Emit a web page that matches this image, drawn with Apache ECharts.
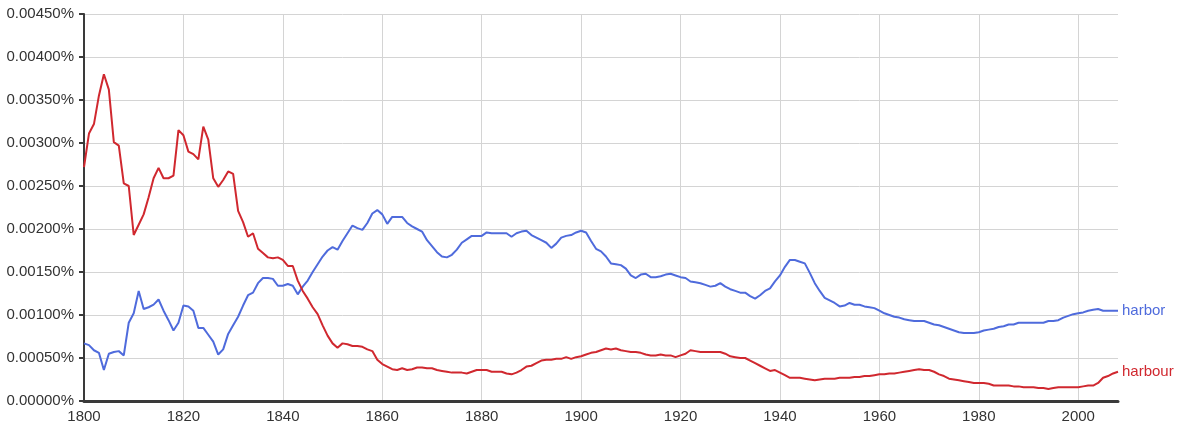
<!DOCTYPE html>
<html>
<head>
<meta charset="utf-8">
<script src="https://cdn.jsdelivr.net/npm/echarts@6/dist/echarts.min.js"></script>
<style>
html,body{margin:0;padding:0;background:#fff;}
#chart{width:1182px;height:432px;}
</style>
</head>
<body>
<div id="chart"></div>
<script>
const startYear = 1800;
const endYear = 2008;
const years = [];
for (let y = startYear; y <= endYear; y++) years.push(String(y));

const yTicks = [0, 0.0005, 0.001, 0.0015, 0.002, 0.0025, 0.003, 0.0035, 0.004, 0.0045];

// harbor (blue), values in percent, 1800..2008
const harbor = [
0.00067,0.00065,0.00059,0.00056,0.00036,0.00055,0.00057,0.00058,0.00053,0.00091,
0.00102,0.00128,0.00107,0.00109,0.00112,0.00118,0.00105,0.00094,0.00082,0.00091,
0.00111,0.00110,0.00105,0.00085,0.00085,0.00077,0.00069,0.00054,0.00060,0.00078,
0.00088,0.00098,0.00111,0.00123,0.00126,0.00137,0.00143,0.00143,0.00142,0.00134,
0.00134,0.00136,0.00134,0.00124,0.00133,0.00140,0.00150,0.00159,0.00168,0.00175,
0.00179,0.00176,0.00186,0.00195,0.00204,0.00201,0.00199,0.00207,0.00218,0.00222,
0.00217,0.00206,0.00214,0.00214,0.00214,0.00207,0.00203,0.00200,0.00197,0.00187,
0.00180,0.00173,0.00168,0.00167,0.00170,0.00176,0.00184,0.00188,0.00192,0.00192,
0.00192,0.00196,0.00195,0.00195,0.00195,0.00195,0.00191,0.00195,0.00197,0.00198,
0.00193,0.00190,0.00187,0.00184,0.00178,0.00183,0.00190,0.00192,0.00193,0.00196,
0.00198,0.00196,0.00186,0.00177,0.00174,0.00168,0.00160,0.00159,0.00158,0.00154,
0.00146,0.00143,0.00147,0.00148,0.00144,0.00144,0.00145,0.00147,0.00148,0.00146,
0.00144,0.00143,0.00139,0.00138,0.00137,0.00135,0.00133,0.00134,0.00137,0.00133,
0.00130,0.00128,0.00126,0.00126,0.00122,0.00119,0.00123,0.00128,0.00131,0.00139,
0.00146,0.00156,0.00164,0.00164,0.00162,0.00160,0.00149,0.00137,0.00128,0.00120,
0.00117,0.00114,0.00110,0.00111,0.00114,0.00112,0.00112,0.00110,0.00109,0.00108,
0.00105,0.00102,0.00100,0.00098,0.00097,0.00095,0.00094,0.00093,0.00093,0.00093,
0.00091,0.00089,0.00088,0.00086,0.00084,0.00082,0.00080,0.00079,0.00079,0.00079,
0.00080,0.00082,0.00083,0.00084,0.00086,0.00087,0.00089,0.00089,0.00091,0.00091,
0.00091,0.00091,0.00091,0.00091,0.00093,0.00093,0.00094,0.00097,0.00099,0.00101,
0.00102,0.00103,0.00105,0.00106,0.00107,0.00105,0.00105,0.00105,0.00105
];

// harbour (red), values in percent, 1800..2008
const harbour = [
0.00272,0.00311,0.00322,0.00355,0.00380,0.00362,0.00301,0.00297,0.00253,0.00250,
0.00193,0.00205,0.00217,0.00237,0.00259,0.00271,0.00259,0.00259,0.00262,0.00315,
0.00309,0.00290,0.00287,0.00281,0.00319,0.00304,0.00259,0.00249,0.00257,0.00267,
0.00264,0.00221,0.00208,0.00191,0.00195,0.00177,0.00172,0.00167,0.00166,0.00167,
0.00164,0.00157,0.00157,0.00140,0.00128,0.00119,0.00109,0.00101,0.00088,0.00076,
0.00067,0.00062,0.00067,0.00066,0.00064,0.00064,0.00063,0.00060,0.00058,0.00048,
0.00043,0.00040,0.00037,0.00036,0.00038,0.00036,0.00037,0.00039,0.00039,0.00038,
0.00038,0.00036,0.00035,0.00034,0.00033,0.00033,0.00033,0.00032,0.00034,0.00036,
0.00036,0.00036,0.00034,0.00034,0.00034,0.00032,0.00031,0.00033,0.00036,0.00040,
0.00041,0.00044,0.00047,0.00048,0.00048,0.00049,0.00049,0.00051,0.00049,0.00051,
0.00052,0.00054,0.00056,0.00057,0.00059,0.00061,0.00060,0.00061,0.00059,0.00058,
0.00057,0.00057,0.00056,0.00054,0.00053,0.00053,0.00054,0.00053,0.00053,0.00051,
0.00053,0.00055,0.00059,0.00058,0.00057,0.00057,0.00057,0.00057,0.00057,0.00055,
0.00052,0.00051,0.00050,0.00050,0.00047,0.00044,0.00041,0.00038,0.00035,0.00036,
0.00033,0.00030,0.00027,0.00027,0.00027,0.00026,0.00025,0.00024,0.00025,0.00026,
0.00026,0.00026,0.00027,0.00027,0.00027,0.00028,0.00028,0.00029,0.00029,0.00030,
0.00031,0.00031,0.00032,0.00032,0.00033,0.00034,0.00035,0.00036,0.00037,0.00036,
0.00036,0.00034,0.00031,0.00029,0.00026,0.00025,0.00024,0.00023,0.00022,0.00021,
0.00021,0.00021,0.00020,0.00018,0.00018,0.00018,0.00018,0.00017,0.00017,0.00016,
0.00016,0.00016,0.00015,0.00015,0.00014,0.00015,0.00016,0.00016,0.00016,0.00016,
0.00016,0.00017,0.00018,0.00018,0.00021,0.00027,0.00029,0.00032,0.00034
];

const seriesNames = ['harbor', 'harbour'];
const seriesColors = ['#4f6bdc', '#d0282f'];

const chart = echarts.init(document.getElementById('chart'), null, {renderer: 'canvas'});
const font = '"Liberation Sans", Arial, sans-serif';
const every20 = (idx) => (idx % 20 === 0);

function mk(name, data, color) {
  return {
    name: name,
    type: 'line',
    data: data,
    showSymbol: false,
    symbol: 'none',
    smooth: false,
    lineStyle: {color: color, width: 2},
    itemStyle: {color: color},
    emphasis: {disabled: true},
    animation: false,
    endLabel: {
      show: true,
      formatter: '{a}',
      color: color,
      fontFamily: font,
      fontSize: 15,
      distance: 4
    }
  };
}

chart.setOption({
  backgroundColor: '#ffffff',
  animation: false,
  grid: {left: 84, right: 64, top: 14, bottom: 31, containLabel: false},
  xAxis: {
    type: 'category',
    data: years,
    boundaryGap: false,
    axisLine: {show: true, lineStyle: {color: '#3a3a3a', width: 3}},
    axisTick: {show: false},
    axisLabel: {
      interval: (idx) => every20(idx),
      color: '#333',
      fontFamily: font,
      fontSize: 15,
      margin: 8
    },
    splitLine: {show: true, interval: (idx) => every20(idx) && idx !== 0, lineStyle: {color: '#d4d4d4', width: 1}}
  },
  yAxis: {
    type: 'value',
    min: yTicks[0],
    max: yTicks[yTicks.length - 1],
    interval: yTicks[1] - yTicks[0],
    axisLine: {show: true, lineStyle: {color: '#3a3a3a', width: 2}},
    axisTick: {show: true, length: 5, lineStyle: {color: '#3a3a3a', width: 2}},
    axisLabel: {
      formatter: (v) => v.toFixed(5) + '%',
      color: '#333',
      fontFamily: font,
      fontSize: 15,
      margin: 10
    },
    splitLine: {show: true, lineStyle: {color: '#d4d4d4', width: 1}}
  },
  series: [
    mk(seriesNames[0], harbor, seriesColors[0]),
    mk(seriesNames[1], harbour, seriesColors[1])
  ]
});
</script>
</body>
</html>
